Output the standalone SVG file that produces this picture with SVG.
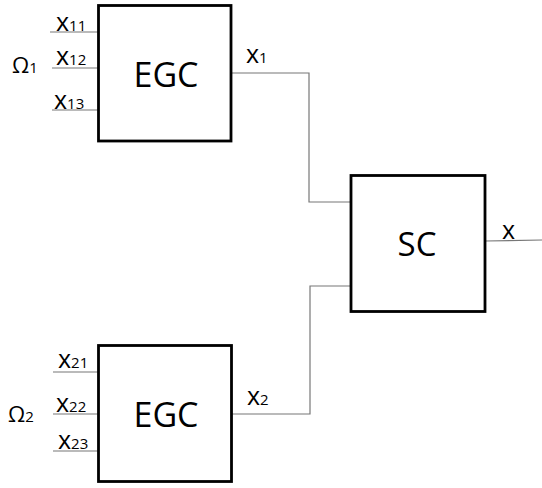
<svg xmlns="http://www.w3.org/2000/svg" width="542" height="488" viewBox="0 0 542 488">
  <style>
    .box { fill: #ffffff; stroke: #000000; stroke-width: 2.8; }
    .wire { fill: none; stroke: #777777; stroke-width: 1.2; }
    .title { font-family: "Open Sans", "DejaVu Sans", sans-serif; font-size: 34px; fill: #000000; text-anchor: middle; }
    .lbl { font-family: "Open Sans", "DejaVu Sans", sans-serif; font-size: 25px; fill: #000000; }
    .sub { font-size: 15px; }
    .omega { font-family: "Open Sans", "DejaVu Sans", sans-serif; font-size: 22px; fill: #000000; }
    .osub { font-size: 15px; }
  </style>
  <rect width="542" height="488" fill="#ffffff"/>

  <!-- signal wires -->
  <g id="connectors">
    <line class="wire" x1="50" y1="32" x2="98" y2="32"/>
    <line class="wire" x1="52" y1="68" x2="98" y2="68"/>
    <line class="wire" x1="52" y1="110" x2="98" y2="110"/>
    <line class="wire" x1="53" y1="372" x2="98" y2="372"/>
    <line class="wire" x1="53" y1="414" x2="98" y2="414"/>
    <line class="wire" x1="53" y1="451" x2="98" y2="451"/>
    <polyline class="wire" points="231,73 309,73 309,202 351,202"/>
    <polyline class="wire" points="232,414 310,414 310,286 351,286"/>
    <line class="wire" x1="485" y1="241" x2="542" y2="240"/>
  </g>

  <!-- first generating block -->
  <g id="egc1">
    <rect class="box" x="98.5" y="5.5" width="132.5" height="135.5"/>
    <text class="title" x="166" y="87">EGC</text>
    <text class="omega" x="12" y="73">Ω<tspan class="osub">1</tspan></text>
    <text class="lbl" x="56" y="31">x<tspan class="sub">11</tspan></text>
    <text class="lbl" x="56" y="65">x<tspan class="sub">12</tspan></text>
    <text class="lbl" x="54" y="109">x<tspan class="sub">13</tspan></text>
    <text class="lbl" x="246" y="63">x<tspan class="sub">1</tspan></text>
  </g>

  <!-- second generating block -->
  <g id="egc2">
    <rect class="box" x="98.5" y="345.5" width="133" height="136"/>
    <text class="title" x="166" y="427">EGC</text>
    <text class="omega" x="8" y="422">Ω<tspan class="osub">2</tspan></text>
    <text class="lbl" x="58" y="368">x<tspan class="sub">21</tspan></text>
    <text class="lbl" x="56" y="412">x<tspan class="sub">22</tspan></text>
    <text class="lbl" x="58" y="449">x<tspan class="sub">23</tspan></text>
    <text class="lbl" x="247" y="405">x<tspan class="sub">2</tspan></text>
  </g>

  <!-- combining block -->
  <g id="sc">
    <rect class="box" x="351" y="175.5" width="134" height="136"/>
    <text class="title" x="417" y="256" style="font-size:33px">SC</text>
    <text class="lbl" x="502" y="239">x</text>
  </g>
</svg>
